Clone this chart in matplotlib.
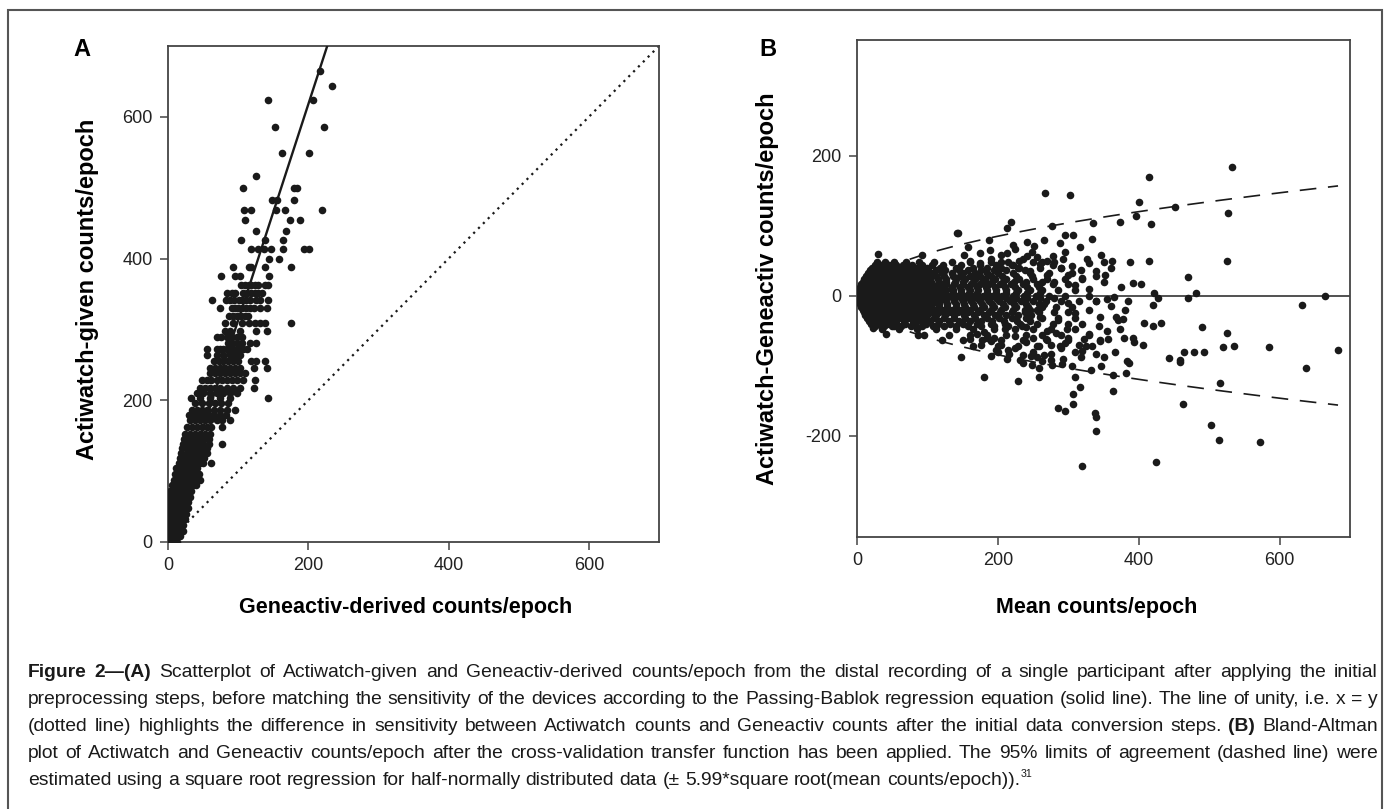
import numpy as np
import matplotlib
matplotlib.use("Agg")
import matplotlib.pyplot as plt
from matplotlib.patches import Rectangle

plt.rcParams["font.family"] = ["Liberation Sans", "DejaVu Sans"]
plt.rcParams["axes.unicode_minus"] = False

# ---- panel A: Actiwatch-given (y) vs Geneactiv-derived (x), read row by row
a_levels = [665, 644, 624, 585, 549, 516, 499, 483, 468, 454, 439, 426, 413,
            400, 388, 375, 363, 352, 341, 330, 319, 309, 298, 290, 281, 272,
            264, 255, 245, 238, 229, 217, 210, 203, 196, 186, 179, 172, 163,
            153, 146, 139, 132, 125, 118, 112, 104, 96, 88, 80, 72, 64, 56,
            48, 40, 32, 24, 16, 8, 0]
a_rows = [
    [217], [234], [143, 207], [152, 223], [162, 201], [126],
    [107, 179, 184], [148, 155, 180], [109, 118, 154, 167, 219],
    [110, 174, 188], [126, 168], [104, 138, 164],
    [118, 128, 137, 147, 164, 194, 201], [144, 158],
    [92, 115, 118, 138, 176], [76, 96, 103, 144],
    [104, 110, 115, 119, 124, 129, 138, 142],
    [84, 91, 96, 107, 112, 118, 124, 129, 134],
    [63, 82, 89, 94, 101, 105, 111, 117, 125, 131, 142],
    [74, 91, 96, 100, 105, 111, 117, 123, 131, 141],
    [87, 93, 99, 104, 110, 114],
    [81, 93, 105, 115, 124, 131, 138, 176],
    [81, 88, 103, 126, 141],
    [70, 76, 84, 91, 98, 105],
    [86, 91, 98, 105, 117, 125],
    [55, 70, 74, 79, 84, 88, 93, 98, 103, 107, 112],
    [55, 70, 79, 88, 96, 103],
    [65, 72, 79, 86, 93, 100, 119, 125, 138],
    [60, 67, 74, 81, 88, 96, 103, 123, 141],
    [60, 67, 74, 81, 88, 96, 103, 110],
    [48, 55, 62, 70, 77, 84, 91, 98, 107, 124],
    [46, 53, 60, 67, 74, 84, 93, 103, 122],
    [41, 50, 60, 70, 79, 88, 98],
    [33, 46, 60, 74, 88, 143],
    [39, 48, 58, 67, 76, 86],
    [34, 41, 48, 55, 65, 74, 84, 96],
    [30, 37, 44, 51, 58, 66, 74, 82],
    [31, 39, 46, 53, 60, 70, 77, 88],
    [27, 34, 41, 48, 55, 62, 77],
    [24, 31, 39, 46, 53, 60],
    [23, 30, 37, 44, 51, 58],
    [22, 29, 36, 43, 50, 58, 77],
    [20, 27, 34, 41, 48, 56],
    [19, 27, 34, 41, 48, 55],
    [17, 22, 27, 32, 37, 42, 47, 52],
    [15, 20, 25, 30, 35, 40, 45, 50, 62],
    [12, 17, 22, 27, 32, 37, 42],
    [10, 15, 20, 25, 30, 35, 40, 44],
    [8, 13, 18, 23, 28, 33, 38, 45],
    [6, 11, 16, 21, 26, 31, 36, 40],
    [3, 8, 13, 18, 23, 28, 33],
    [1, 6, 11, 16, 21, 26, 31],
    [1, 5, 10, 15, 20, 25, 29],
    [1, 5, 10, 15, 20, 24, 28],
    [1, 5, 10, 14, 18, 22, 26],
    [1, 5, 9, 13, 17, 21, 24],
    [1, 5, 9, 13, 17, 21],
    [1, 5, 9, 13, 17, 22],
    [1, 5, 9, 13, 17],
    [1, 5, 9, 13],
]
a_fit_x = [0, 227]      # Passing-Bablok line
a_fit_y = [8, 700]
a_unity = [0, 700]

# ---- panel B: Bland-Altman, mean (x) vs difference (y)
b_levels = [48, 44, 40, 36, 32, 28, 24, 20, 16, 12, 8, 4, 0, -4, -8, -12,
            -16, -20, -24, -28, -32, -36, -40, -44, -48, -56, -64, -72]
b_rows = [
    [28, 40, 52, 70, 88, 110, 135, 160, 190, 215, 250, 280],
    [25, 34, 45, 56, 66, 78, 92, 106, 122, 148, 175, 198, 222],
    [22, 30, 38, 48, 58, 72, 85, 100, 118, 140, 165, 185, 205, 230, 260, 290],
    [18, 26, 34, 43, 52, 61, 70, 80, 90, 101, 112, 125, 145, 158, 176, 194,
     212, 238],
    [15, 22, 30, 38, 46, 55, 64, 74, 84, 95, 107, 120, 135, 150, 168, 185,
     200, 222, 245, 272, 305],
    [13, 19, 26, 33, 41, 50, 59, 69, 79, 89, 100, 112, 124, 137, 146, 160,
     175, 190, 206, 226, 248],
    [10, 16, 22, 28, 35, 42, 50, 58, 66, 75, 84, 94, 104, 115, 127, 140, 153,
     167, 182, 196, 212, 230, 250, 270, 295, 320],
    [8, 13, 19, 25, 31, 38, 45, 52, 60, 68, 77, 86, 95, 105, 116, 127, 139,
     151, 164, 178, 192, 207, 223, 240, 262],
    [6, 11, 16, 21, 27, 33, 40, 47, 54, 62, 70, 78, 87, 96, 106, 116, 127,
     138, 150, 162, 175, 188, 203, 218, 235, 255, 278, 300],
    [4, 9, 13, 18, 23, 29, 35, 41, 48, 55, 62, 70, 78, 86, 95, 104, 114, 124,
     135, 146, 158, 170, 183, 196, 210, 225, 242, 258],
    [3, 7, 11, 15, 20, 25, 31, 37, 43, 50, 57, 64, 72, 80, 88, 97, 106, 116,
     126, 137, 148, 160, 172, 185, 198, 212, 228, 245, 262, 285, 310],
    [2, 5, 9, 13, 17, 22, 27, 32, 38, 44, 50, 57, 64, 71, 79, 87, 96, 105,
     115, 125, 136, 147, 159, 171, 184, 197, 211, 226, 242, 260],
    [1, 4, 7, 10, 14, 18, 23, 28, 34, 40, 46, 53, 60, 67, 75, 83, 91, 100,
     110, 120, 131, 142, 154, 166, 179, 192, 206, 221, 237, 254, 272, 295, 330],
    [2, 5, 9, 13, 18, 23, 29, 35, 41, 48, 55, 62, 70, 78, 87, 96, 105, 115,
     125, 136, 147, 159, 171, 184, 197, 211, 226, 242, 260, 280],
    [3, 7, 11, 16, 21, 27, 33, 40, 47, 54, 62, 70, 78, 87, 96, 106, 116, 127,
     138, 150, 162, 175, 188, 202, 217, 233, 250, 268, 290, 315, 340],
    [4, 9, 14, 19, 25, 31, 38, 45, 52, 60, 68, 77, 86, 96, 106, 117, 128, 140,
     152, 165, 178, 192, 207, 223, 240, 258],
    [6, 12, 18, 25, 32, 40, 48, 56, 65, 74, 84, 94, 105, 116, 128, 140, 153,
     166, 180, 195, 210, 226, 243, 262, 282, 305],
    [8, 14, 21, 28, 35, 43, 51, 60, 69, 79, 89, 100, 111, 123, 135, 148, 161,
     175, 190, 205, 221, 238, 256],
    [10, 17, 25, 33, 42, 51, 61, 71, 82, 93, 105, 117, 130, 143, 157, 172,
     187, 203, 220, 238, 258, 280, 300],
    [12, 20, 28, 37, 46, 56, 66, 77, 88, 100, 112, 125, 138, 152, 166, 181,
     196, 212, 229, 247],
    [14, 22, 31, 40, 50, 60, 72, 84, 97, 110, 124, 138, 153, 168, 185, 202,
     220, 240, 262, 285, 310],
    [17, 26, 36, 46, 56, 67, 79, 91, 104, 117, 131, 145, 160, 176, 192, 209,
     227, 246],
    [20, 30, 42, 55, 68, 82, 98, 115, 132, 150, 170, 190, 210, 232, 255, 278, 300],
    [25, 38, 50, 63, 77, 92, 108, 124, 141, 158, 176, 195, 214, 234],
    [35, 60, 85, 112, 140, 165, 195, 225, 250, 275, 298],
    [95, 130, 160, 185, 212, 240, 262, 290, 330],
    [120, 150, 178, 205, 235, 270, 300, 345],
    [165, 200, 228, 258, 288, 325],
]
b_mean = [533, 414, 267, 302, 401, 451, 527, 396, 417, 373, 335, 277, 219,
          213, 143, 187, 333, 296, 306, 158, 252, 316, 213, 525, 414, 388,
          346, 279, 241, 470, 403, 481, 470, 665, 632, 421, 428, 420, 408,
          420, 431, 490, 526, 520, 535, 585, 683, 443, 458, 465, 479, 493,
          637, 515, 463, 338, 503, 514, 572, 425, 320, 339, 339, 286, 295,
          306, 306, 317, 364, 459, 382, 386, 384, 364, 347, 351, 332, 339,
          367, 309, 291, 258, 258, 229, 180, 147, 190, 213, 235, 249, 277,
          310, 319, 379, 392, 394, 373, 377, 406, 41, 23, 19, 86, 53, 142,
          30, 93, 152, 175, 189,
          229, 245, 260, 270, 280, 290, 300, 310, 320, 330, 340, 350, 355,
          300, 310, 320, 330, 345, 360, 370, 380, 285, 270, 260, 250, 240,
          300, 315, 330, 345, 355, 290, 275, 265, 250, 225, 205, 190, 365,
          375, 385, 392, 340, 350, 360, 326, 295, 270, 255, 230, 205, 222,
          265, 288, 200, 215, 235, 255, 275, 185, 170, 160, 245, 265,
          180, 195, 210, 225, 240, 255, 268, 282, 296, 310, 322, 176, 198,
          216, 232, 247, 262, 276, 292, 305, 318, 334, 344, 356, 368,
          160, 175, 190, 205, 220, 235, 248, 262, 278, 292, 305, 318, 330,
          340, 352, 362, 225, 242]
b_diff = [184, 170, 146, 144, 133, 127, 118, 114, 102, 105, 103, 100, 105,
          96, 90, 80, 81, 87, 87, 70, 71, 69, 61, 50, 50, 48, 58, 57, 57,
          26, 17, 3, -4, 0, -14, 4, -4, -14, -39, -43, -39, -45, -54, -73,
          -72, -73, -78, -89, -92, -81, -80, -81, -103, -125, -155, -168,
          -185, -207, -209, -238, -243, -174, -193, -161, -165, -155, -141,
          -131, -136, -95, -110, -97, -93, -114, -101, -88, -107, -84, -80,
          -116, -98, -103, -116, -122, -117, -88, -86, -91, -97, -99, -99,
          -81, -79, -61, -61, -67, -48, -34, -71, -55, -46, -36, -56, -43,
          89, 60, 58, 58, 61, 65,
          40, 35, 45, 30, 20, 40, 30, 15, 25, 10, 35, 20, -5, -10, -25, -40,
          -20, -30, -15, -35, -20, -35, -50, -30, -60, -45, -60, -70, -55,
          -65, -50, -75, -70, -85, -80, -75, -70, -65, -2, 12, -8, 18, -8, 48,
          40, 52, 62, 50, 55, 50, 48, 72, 80, 75, -80, -78, -85, -88, -92,
          -60, -55, -62, -20, -12,
          -52, -60, -48, -58, -66, -72, -62, -54, -68, -48, -62, -70, -78,
          -84, -92, -86, -94, -84, -90, -100, -88, -72, -44, -62, -30,
          50, 46, 52, 58, 44, 52, 62, 48, 44, 52, 42, 36, 46, 28, 30, 50,
          66, 76]
b_loa_k = 5.99          # +/- 5.99*sqrt(mean), from the caption
b_loa_range = [5, 683]

caption_lines = [
    "Figure 2\u2014(A) Scatterplot of Actiwatch-given and Geneactiv-derived counts/epoch from the distal recording of a single participant after applying the initial",
    "preprocessing steps, before matching the sensitivity of the devices according to the Passing-Bablok regression equation (solid line). The line of unity, i.e. x = y",
    "(dotted line) highlights the difference in sensitivity between Actiwatch counts and Geneactiv counts after the initial data conversion steps. (B) Bland-Altman",
    "plot of Actiwatch and Geneactiv counts/epoch after the cross-validation transfer function has been applied. The 95% limits of agreement (dashed line) were",
    "estimated using a square root regression for half-normally distributed data (\u00b1 5.99*square root(mean counts/epoch)).",
]
caption_bold = {"Figure", "2\u2014(A)", "(B)"}
caption_sup = "31"

a_x = [x for row in a_rows for x in row]
a_y = [lv for lv, row in zip(a_levels, a_rows) for _ in row]
bx = [x for row in b_rows for x in row] + b_mean
by = [lv for lv, row in zip(b_levels, b_rows) for _ in row] + b_diff

W, H = 1390, 809
fig = plt.figure(figsize=(W / 100, H / 100), dpi=100)


def fx(px):
    return px / W


def fy(py):
    return 1 - py / H


ink = "#1a1a1a"
axA = fig.add_axes([fx(168), fy(542), fx(659) - fx(168), fy(46) - fy(542)])
axB = fig.add_axes([fx(857), fy(537), fx(1350) - fx(857), fy(40) - fy(537)])

dot = 30
axA.scatter(a_x, a_y, s=dot, c=ink, linewidths=0, zorder=3)
axA.plot(a_fit_x, a_fit_y, color=ink, lw=1.7, zorder=4)
axA.plot(a_unity, a_unity, color=ink, lw=1.6, ls=(0, (1, 2.1)))
axA.set_xlim(0, 700)
axA.set_ylim(0, 700)
axA.set_xticks([0, 200, 400, 600])
axA.set_yticks([0, 200, 400, 600])
axA.set_xlabel("Geneactiv-derived counts/epoch", fontsize=15.5, fontweight="bold")
axA.set_ylabel("Actiwatch-given counts/epoch", fontsize=17, fontweight="bold")
axA.xaxis.set_label_coords(0.483, -0.111)
axA.yaxis.set_label_coords(-0.1405, 0.51)

axB.scatter(bx, by, s=dot, c=ink, linewidths=0, zorder=3)
axB.axhline(0, color="#333333", lw=1.2, zorder=2)
xs = np.linspace(b_loa_range[0], b_loa_range[1], 300)
for sgn in (1, -1):
    axB.plot(xs, sgn * b_loa_k * np.sqrt(xs), color=ink, lw=1.2,
             dashes=(10, 7), zorder=4)
axB.set_xlim(0, 700)
axB.set_ylim(-345, 365)
axB.set_xticks([0, 200, 400, 600])
axB.set_yticks([-200, 0, 200])
axB.set_xlabel("Mean counts/epoch", fontsize=15.5, fontweight="bold")
axB.set_ylabel("Actiwatch-Geneactiv counts/epoch", fontsize=17, fontweight="bold")
axB.xaxis.set_label_coords(0.487, -0.121)
axB.yaxis.set_label_coords(-0.158, 0.5)

for ax in (axA, axB):
    for sp in ax.spines.values():
        sp.set_color("#444444")
        sp.set_linewidth(1.3)
    ax.tick_params(direction="out", length=6, width=1.1, color="#444444",
                   labelsize=13, pad=5, labelcolor="#222222")

fig.text(fx(82), fy(50), "A", fontsize=17, fontweight="bold", ha="center", va="center")
fig.text(fx(768), fy(50), "B", fontsize=17, fontweight="bold", ha="center", va="center")

fig.patches.append(Rectangle((fx(8), fy(830)), fx(1382) - fx(8), fy(10) - fy(830),
                             transform=fig.transFigure, fill=False,
                             ec="#555555", lw=1.5))

# ---- justified caption
renderer = fig.canvas.get_renderer()


def text_w(s, size, bold):
    t = fig.text(0, 0, s, fontsize=size, fontweight="bold" if bold else "normal")
    w = t.get_window_extent(renderer).width
    t.remove()
    return w


left, right = 28, 1378
fs = 16
nat = []
for line in caption_lines:
    words = line.split(" ")
    sp = text_w("a a", fs, False) - text_w("aa", fs, False)
    nat.append(sum(text_w(w, fs, w in caption_bold) for w in words) + sp * (len(words) - 1))
fs = fs * min(1.0, (right - left - 2) / max(nat))
space = text_w("a a", fs, False) - text_w("aa", fs, False)

base_y = [677, 704, 731, 758, 785]
for i, line in enumerate(caption_lines):
    words = line.split(" ")
    widths = [text_w(w, fs, w in caption_bold) for w in words]
    last = i == len(caption_lines) - 1
    gap = space if last else (right - left - sum(widths)) / (len(words) - 1)
    x = left
    for w, wd in zip(words, widths):
        fig.text(fx(x), fy(base_y[i]), w, fontsize=fs, va="baseline", ha="left",
                 fontweight="bold" if w in caption_bold else "normal", color="#1a1a1a")
        x += wd + gap
    if last:
        fig.text(fx(x - gap + 1), fy(base_y[i] - 8), caption_sup, fontsize=fs * 0.55,
                 va="baseline", ha="left", color="#1a1a1a")

fig.savefig("out.png", dpi=100)
